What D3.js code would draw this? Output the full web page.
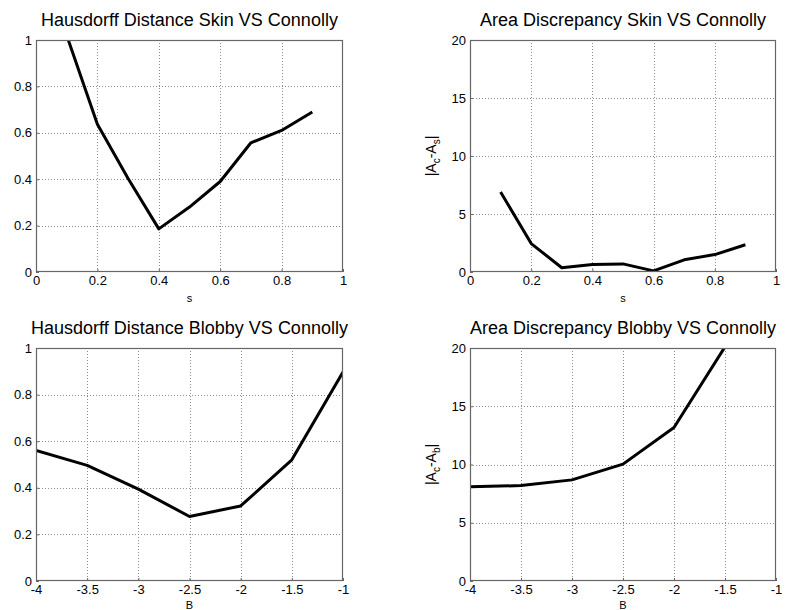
<!DOCTYPE html>
<html>
<head>
<meta charset="utf-8">
<script src="https://cdn.jsdelivr.net/npm/d3@7"></script>
<style>
  body { margin: 0; background: #fff; }
  svg { display: block; }
  text { font-family: "Liberation Sans", Arial, Helvetica, sans-serif; fill: #000; }
</style>
</head>
<body>
<svg id="chart" width="788" height="610"></svg>
<script>
// Smoothing parameter s (skin surface) and blobbiness B (blobby surface)
const sValues = [0.1, 0.2, 0.3, 0.4, 0.5, 0.6, 0.7, 0.8, 0.9];
const bValues = [-4, -3.5, -3, -2.5, -2, -1.5, -1];

// Hausdorff distances to the Connolly surface
const hausdorffSkin = [1.02, 0.637, 0.403, 0.186, 0.28, 0.39, 0.557, 0.61, 0.69];
const hausdorffBlobby = [0.56, 0.496, 0.394, 0.277, 0.322, 0.52, 0.897];

// Area discrepancies to the Connolly surface
const areaSkin = [6.9, 2.45, 0.37, 0.65, 0.7, 0.1, 1.05, 1.5, 2.35];
const areaBlobby = [8.08, 8.19, 8.68, 10.03, 13.18, 20.1];

// Tick labels
const sTicks = [0, 0.2, 0.4, 0.6, 0.8, 1];
const bTicks = [-4, -3.5, -3, -2.5, -2, -1.5, -1];
const hdTicks = [0, 0.2, 0.4, 0.6, 0.8, 1];
const areaTicks = [0, 5, 10, 15, 20];

const panels = [
  { title: "Hausdorff Distance Skin VS Connolly", x: sValues, y: hausdorffSkin,
    xDomain: [0, 1], yDomain: [0, 1], xTicks: sTicks, yTicks: hdTicks,
    xLabel: "s", yLabel: null, box: [36, 40, 343, 272], xLabelY: 302 },
  { title: "Area Discrepancy Skin VS Connolly", x: sValues, y: areaSkin,
    xDomain: [0, 1], yDomain: [0, 20], xTicks: sTicks, yTicks: areaTicks,
    xLabel: "s", yLabel: "s", box: [470, 40, 776, 272], xLabelY: 302 },
  { title: "Hausdorff Distance Blobby VS Connolly", x: bValues, y: hausdorffBlobby,
    xDomain: [-4, -1], yDomain: [0, 1], xTicks: bTicks, yTicks: hdTicks,
    xLabel: "B", yLabel: null, box: [36, 348, 343, 581], xLabelY: 609 },
  { title: "Area Discrepancy Blobby VS Connolly", x: bValues.slice(0, areaBlobby.length), y: areaBlobby,
    xDomain: [-4, -1], yDomain: [0, 20], xTicks: bTicks, yTicks: areaTicks,
    xLabel: "B", yLabel: "b", box: [470, 348, 776, 581], xLabelY: 609 }
];

const svg = d3.select("#chart");
const defs = svg.append("defs");
const fmt = d => String(d);

panels.forEach((p, i) => {
  const [x0, y0, x1, y1] = p.box;
  const xs = d3.scaleLinear().domain(p.xDomain).range([x0, x1]);
  const ys = d3.scaleLinear().domain(p.yDomain).range([y1, y0]);
  const g = svg.append("g");

  defs.append("clipPath").attr("id", "clip" + i)
    .append("rect").attr("x", x0).attr("y", y0).attr("width", x1 - x0).attr("height", y1 - y0);

  // dotted grid
  const grid = g.append("g").attr("stroke", "#8c8c8c").attr("stroke-width", 1)
    .attr("stroke-dasharray", "1,2");
  p.xTicks.slice(1, -1).forEach(t => {
    grid.append("line").attr("x1", Math.round(xs(t)) + 0.5).attr("x2", Math.round(xs(t)) + 0.5)
      .attr("y1", y0).attr("y2", y1);
  });
  p.yTicks.slice(1, -1).forEach(t => {
    grid.append("line").attr("y1", Math.round(ys(t)) + 0.5).attr("y2", Math.round(ys(t)) + 0.5)
      .attr("x1", x0).attr("x2", x1);
  });

  // axes (labels outside, short inward ticks)
  const xAxis = d3.axisBottom(xs).tickValues(p.xTicks).tickFormat(fmt).tickSizeInner(-3).tickSizeOuter(0).tickPadding(4);
  const yAxis = d3.axisLeft(ys).tickValues(p.yTicks).tickFormat(fmt).tickSizeInner(-3).tickSizeOuter(0).tickPadding(4);
  const gx = g.append("g").attr("transform", `translate(0,${y1})`).call(xAxis);
  const gy = g.append("g").attr("transform", `translate(${x0},0)`).call(yAxis);
  [gx, gy].forEach(a => {
    a.select(".domain").remove();
    a.selectAll(".tick line").attr("stroke", "#666");
    a.selectAll(".tick text").attr("font-size", 13).attr("font-family", "Liberation Sans, Arial, sans-serif").attr("fill", "#000");
  });
  gy.selectAll(".tick text").attr("dy", "0.32em");

  // line
  const line = d3.line().x((d, j) => xs(p.x[j])).y(d => ys(d));
  g.append("path").datum(p.y)
    .attr("clip-path", `url(#clip${i})`)
    .attr("fill", "none").attr("stroke", "#000").attr("stroke-width", 3)
    .attr("stroke-linejoin", "round")
    .attr("d", line);

  // frame
  g.append("rect").attr("x", x0 + 0.5).attr("y", y0 + 0.5)
    .attr("width", x1 - x0 - 1).attr("height", y1 - y0 - 1)
    .attr("fill", "none").attr("stroke", "#666").attr("stroke-width", 1.2);

  // title
  g.append("text").attr("x", (x0 + x1) / 2).attr("y", y0 - 14)
    .attr("text-anchor", "middle").attr("font-size", 18).text(p.title);

  // x label
  g.append("text").attr("x", (x0 + x1) / 2).attr("y", p.xLabelY)
    .attr("text-anchor", "middle").attr("font-size", 11).text(p.xLabel);

  // y label |A_c-A_x|
  if (p.yLabel) {
    const yl = g.append("text")
      .attr("transform", `translate(${x0 - 34},${(y0 + y1) / 2}) rotate(-90)`)
      .attr("text-anchor", "middle").attr("font-size", 14);
    yl.append("tspan").text("|A");
    yl.append("tspan").attr("font-size", 10).attr("dy", 4).text("c");
    yl.append("tspan").attr("dy", -4).text("-A");
    yl.append("tspan").attr("font-size", 10).attr("dy", 4).text(p.yLabel);
    yl.append("tspan").attr("dy", -4).text("|");
  }
});
</script>
</body>
</html>
